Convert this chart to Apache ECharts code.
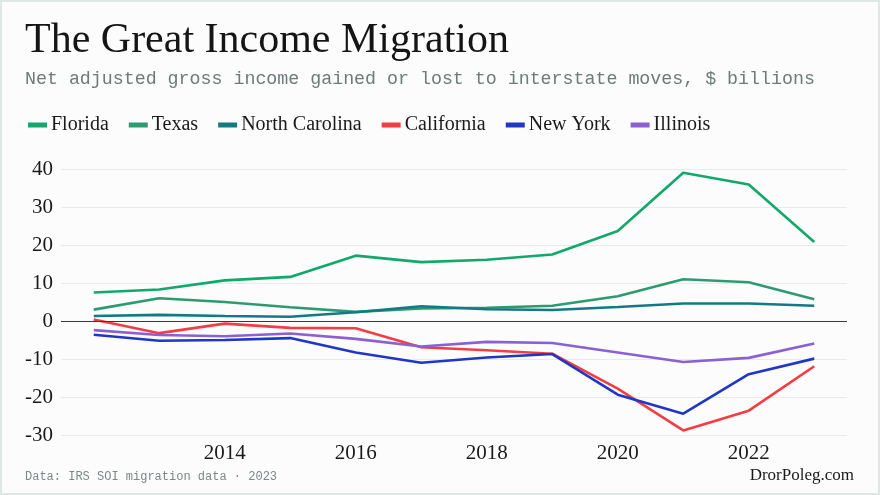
<!DOCTYPE html>
<html>
<head>
<meta charset="utf-8">
<style>
  html, body { margin: 0; padding: 0; background: #fcfcfc; }
  #chart { width: 880px; height: 495px; }
</style>
<script src="https://cdn.jsdelivr.net/npm/echarts@6/dist/echarts.min.js"></script>
</head>
<body>
<div id="chart"></div>
<script>
// years on the x axis
var years = ['2012', '2013', '2014', '2015', '2016', '2017', '2018', '2019', '2020', '2021', '2022', '2023'];
// net AGI gained / lost, $ billions
var florida = [7.5, 8.3, 10.7, 11.6, 17.2, 15.5, 16.1, 17.5, 23.7, 39.0, 35.9, 20.8];
var texas = [3.0, 6.0, 5.0, 3.6, 2.4, 3.3, 3.5, 4.0, 6.5, 11.0, 10.2, 5.7];
var northCarolina = [1.3, 1.6, 1.3, 1.1, 2.3, 3.9, 3.1, 2.9, 3.7, 4.6, 4.6, 4.0];
var california = [0.4, -3.2, -0.7, -1.8, -1.9, -6.9, -7.7, -8.6, -17.8, -28.8, -23.6, -11.9];
var newYork = [-3.6, -5.2, -5.0, -4.5, -8.3, -11.0, -9.6, -8.7, -19.4, -24.4, -14.0, -9.9];
var illinois = [-2.4, -3.7, -4.0, -3.3, -4.7, -6.7, -5.5, -5.8, -8.3, -10.8, -9.7, -5.9];
var yTicks = [-30, -20, -10, 0, 10, 20, 30, 40];

var serif = '"Liberation Serif", "DejaVu Serif", serif';
var mono = '"Liberation Mono", "DejaVu Sans Mono", monospace';

var chart = echarts.init(document.getElementById('chart'));

function line(name, data, color) {
  return {
    name: name,
    type: 'line',
    data: data,
    symbol: 'none',
    lineStyle: { width: 2.6, color: color },
    itemStyle: { color: color }
  };
}

var series = [
  line('Florida', florida, '#10a86b'),
  line('Texas', texas, '#2e9a72'),
  line('North Carolina', northCarolina, '#137a84'),
  line('California', california, '#f43d42'),
  line('New York', newYork, '#1f36c6'),
  line('Illinois', illinois, '#8a60d3')
];
// dark zero line
series[0].markLine = {
  silent: true,
  symbol: 'none',
  label: { show: false },
  lineStyle: { color: '#3a3a3a', width: 1.2, type: 'solid' },
  data: [{ yAxis: 0 }]
};

var option = {
  backgroundColor: '#fcfcfc',
  animation: false,
  legend: {
    left: 28,
    top: 115,
    padding: 0,
    icon: 'rect',
    itemWidth: 19,
    itemHeight: 5,
    itemGap: 20,
    textStyle: { fontFamily: serif, fontSize: 20, color: '#1a1a1a', padding: [0, 0, 0, -1] },
    data: ['Florida', 'Texas', 'North Carolina', 'California', 'New York', 'Illinois']
  },
  grid: { left: 61, right: 33, top: 169, bottom: 60 },
  xAxis: {
    type: 'category',
    data: years,
    boundaryGap: true,
    axisLine: { show: false },
    axisTick: { show: false },
    splitLine: { show: false },
    axisLabel: {
      margin: 8,
      fontFamily: serif,
      fontSize: 21,
      color: '#1a1a1a',
      interval: function (i, v) { return Number(v) % 2 === 0 && v !== '2012'; }
    }
  },
  yAxis: {
    type: 'value',
    min: yTicks[0],
    max: yTicks[yTicks.length - 1],
    interval: 10,
    axisLine: { show: false },
    axisTick: { show: false },
    splitLine: { lineStyle: { color: '#e7eceb', width: 1 } },
    axisLabel: { margin: 8, fontFamily: serif, fontSize: 21, color: '#1a1a1a' }
  },
  graphic: [
    {
      type: 'rect', silent: true, z: -1,
      shape: { x: 1, y: 1, width: 878, height: 493 },
      style: { fill: 'none', stroke: '#dfe6e5', lineWidth: 2 }
    },
    {
      type: 'text', left: 25, top: 20,
      style: { text: 'The Great Income Migration', font: '42px ' + serif, fill: '#151515' }
    },
    {
      type: 'text', left: 25, top: 70,
      style: { text: 'Net adjusted gross income gained or lost to interstate moves, $ billions', font: '18.3px ' + mono, fill: '#6d7b79' }
    },
    {
      type: 'text', left: 25, top: 471,
      style: { text: 'Data: IRS SOI migration data \u00b7 2023', font: '12px ' + mono, fill: '#7b8786' }
    },
    {
      type: 'text', right: 26, top: 467,
      style: { text: 'DrorPoleg.com', font: '17px ' + serif, fill: '#1a1a1a' }
    }
  ],
  series: series
};

chart.setOption(option);
</script>
</body>
</html>
